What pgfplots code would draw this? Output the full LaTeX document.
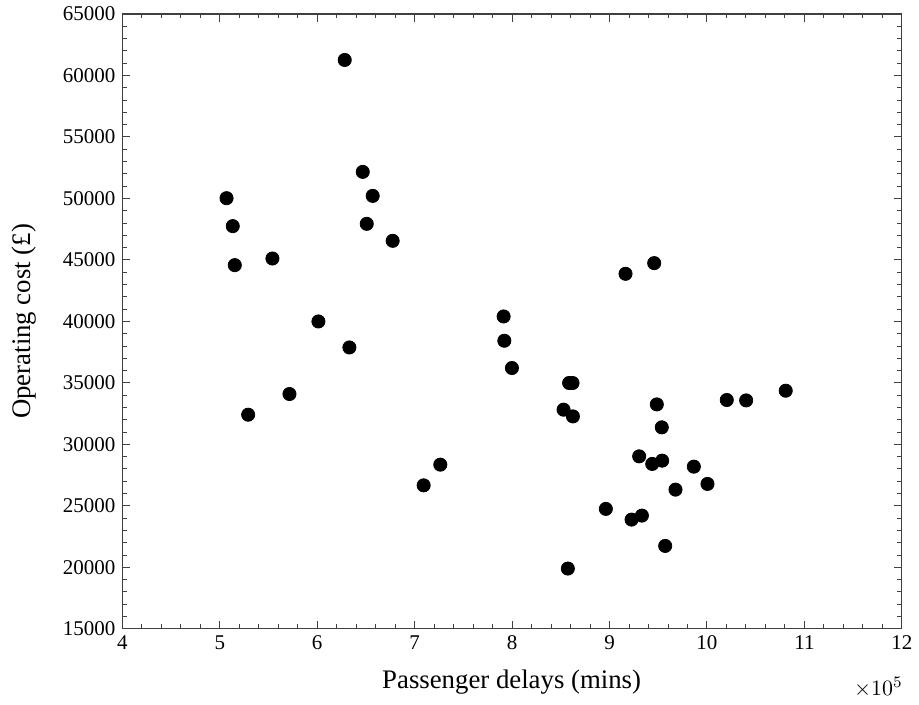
\documentclass[border=0pt]{standalone}
\usepackage{pgfplots}
\pgfplotsset{compat=1.18}
\usepackage{fontspec}
\setmainfont{Liberation Serif}
\begin{document}
\begin{tikzpicture}
\begin{axis}[
  scale only axis,
  width=390pt, height=307.6pt,
  xmin=4, xmax=12, ymin=15000, ymax=65000,
  xtick={4,5,...,12},
  ytick={15000,20000,...,65000},
  minor x tick num=4, minor y tick num=4,
  tick align=inside,
  major tick length=4pt, minor tick length=2.2pt,
  axis line style={black!75, line width=0.6pt},
  every tick/.style={black!75, line width=0.5pt},
  scaled y ticks=false, scaled x ticks=false,
  /pgf/number format/assume math mode=true,
  /pgf/number format/set thousands separator={},
  tick label style={font=\fontsize{10.5}{12}\selectfont},
  label style={font=\fontsize{13.4}{15}\selectfont},
  xlabel={Passenger delays (mins)},
  ylabel={Operating cost (\pounds)},
  xlabel style={at={(axis description cs:0.4994,-0.0873)}, anchor=center},
  ylabel style={at={(axis description cs:-0.1263,0.5)}, anchor=center},
  clip=false,
]
\addplot[only marks, mark=*, mark size=3.3pt, mark options={fill=black, draw=black}] coordinates {
(6.282,61262) (6.467,52161) (6.569,50210) (6.508,47935) (6.774,46554)
(5.069,50023) (5.133,47748) (5.154,44577) (5.540,45116) (6.012,39996)
(6.330,37883) (7.913,40403) (7.920,38428) (7.998,36209) (5.291,32414)
(5.715,34095) (7.092,26669) (7.263,28351) (9.164,43872) (9.458,44741)
(8.585,34990) (8.620,34990) (8.528,32821) (8.624,32276) (8.572,19900)
(8.962,24751) (9.226,23882) (9.332,24207) (9.571,21741) (9.304,29026)
(9.438,28408) (9.540,28677) (9.536,31385) (9.485,33251) (9.677,26320)
(9.865,28189) (10.005,26783) (10.203,33609) (10.402,33576) (10.808,34364)
};
\node[font=\fontsize{11}{12}\selectfont] at (axis description cs:0.9699,-0.0952) {$\times10^{5}$};
\path (axis description cs:-0.157,-0.118) (axis description cs:1.021,1.0228);
\end{axis}
\end{tikzpicture}
\end{document}
